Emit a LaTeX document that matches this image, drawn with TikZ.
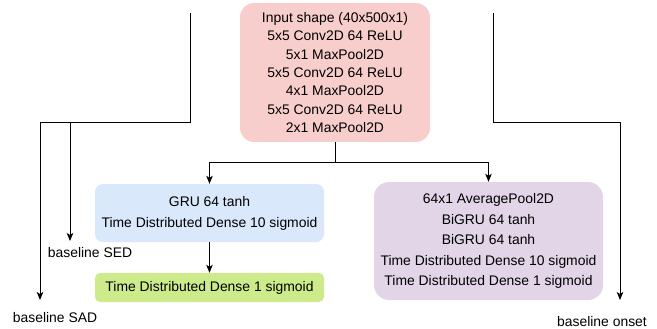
\documentclass[tikz,border=0pt]{standalone}
\usepackage{fontspec}
\setmainfont{Liberation Sans}
\usetikzlibrary{arrows.meta}
\definecolor{pinkfill}{HTML}{F8CECC}
\definecolor{bluefill}{HTML}{DAE8FC}
\definecolor{greenfill}{HTML}{CDEB8B}
\definecolor{purplefill}{HTML}{E1D5E7}
\begin{document}
\begin{tikzpicture}[x=1pt,y=1pt,
  box/.style={draw=none,align=center,inner sep=0pt},
  lbl/.style={inner sep=0pt,font={\fontsize{13.9}{16}\selectfont}},
  arr/.style={line width=0.9pt,-{Stealth[length=8pt,width=6.5pt,inset=2pt]}},
  ln/.style={line width=0.9pt}]
\useasboundingbox (0,0) rectangle (657,-329);
\node[box,fill=pinkfill,rounded corners=14pt,minimum width=190pt,minimum height=139pt,
  font={\fontsize{13.9}{18.3}\selectfont}] (cnn) at (335,-72.5)
  {Input shape (40x500x1)\\5x5 Conv2D 64 ReLU\\5x1 MaxPool2D\\5x5 Conv2D 64 ReLU\\4x1 MaxPool2D\\5x5 Conv2D 64 ReLU\\2x1 MaxPool2D};
\node[box,fill=bluefill,rounded corners=8pt,minimum width=229pt,minimum height=58pt,
  font={\fontsize{13.9}{21}\selectfont}] (gru) at (209.5,-213)
  {GRU 64 tanh\\Time Distributed Dense 10 sigmoid};
\node[box,fill=greenfill,rounded corners=5pt,minimum width=229pt,minimum height=29pt,
  font={\fontsize{13.9}{16}\selectfont}] (dense) at (209.5,-287.5)
  {Time Distributed Dense 1 sigmoid};
\node[box,fill=purplefill,rounded corners=15pt,minimum width=229pt,minimum height=118pt,
  font={\fontsize{13.9}{20.5}\selectfont}] (bigru) at (488.5,-241)
  {64x1 AveragePool2D\\BiGRU 64 tanh\\BiGRU 64 tanh\\Time Distributed Dense 10 sigmoid\\Time Distributed Dense 1 sigmoid};
\node[lbl] (sad) at (55,-318) {baseline SAD};
\node[lbl] (sed) at (90,-253) {baseline SED};
\node[lbl] (onset) at (602,-322) {baseline onset};
\coordinate (tl) at (190,-13);
\coordinate (tr) at (493,-13);
\coordinate (sadturn) at (40,-122);
\coordinate (sedsplit) at (70,-122);
\coordinate (onsetturn) at (620,-122);
\coordinate (sadend) at (40,-300);
\coordinate (sedend) at (70,-241);
\coordinate (onsetend) at (620,-300);
\coordinate (split) at (335,-162);
\draw[ln] (cnn.south) -- (split);
\draw[arr] (split) -| (gru.north);
\draw[arr] (split) -| (bigru.north);
\draw[arr] (gru.south) -- (dense.north);
\draw[arr] (tl) |- (sadturn) -- (sadend);
\draw[arr] (sedsplit) -- (sedend);
\draw[arr] (tr) |- (onsetturn) -- (onsetend);
\end{tikzpicture}
\end{document}
